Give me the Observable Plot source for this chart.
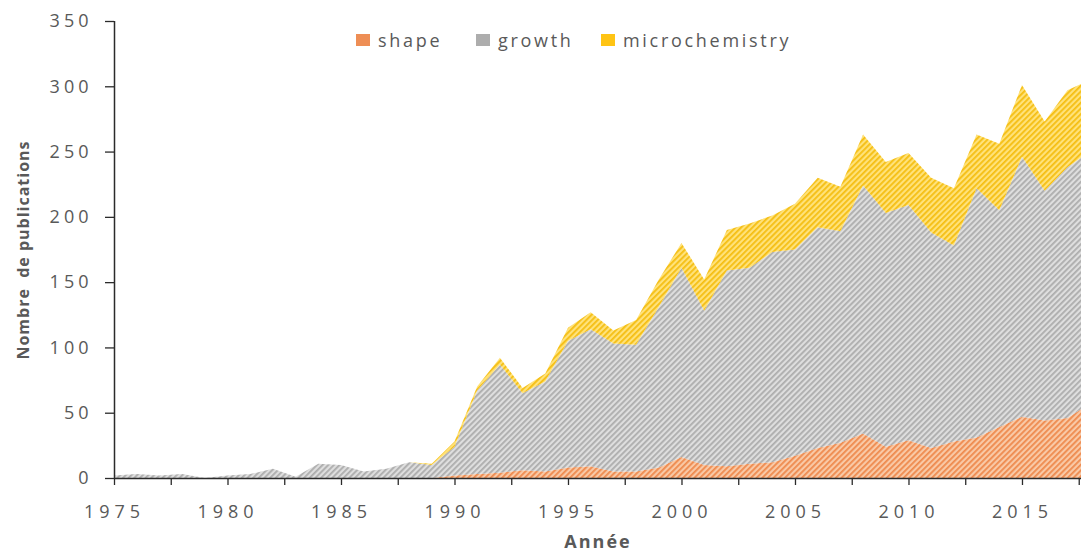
<!DOCTYPE html>
<html>
<head>
<meta charset="utf-8">
<script src="https://cdn.jsdelivr.net/npm/d3@7"></script>
<script src="https://cdn.jsdelivr.net/npm/@observablehq/plot@0.6"></script>
<style>
  html, body { margin: 0; padding: 0; background: #fff; }
  #wrap { position: relative; width: 1081px; height: 555px; overflow: hidden; }
  #legend { position: absolute; top: 28px; left: 0; width: 1081px; height: 24px;
    font-family: "Open Sans", sans-serif; font-size: 18px; color: #595959; letter-spacing: 2.7px; }
  .item { position: absolute; top: 0; display: flex; align-items: center; height: 24px; }
  .sw { width: 14px; height: 12px; margin-right: 8px; }
</style>
</head>
<body>
<div id="wrap">
  <div id="chart"></div>
  <div id="legend"></div>
</div>
<script>
// ---- data ----
const years = d3.range(1975, 2019);
const seriesNames = ["shape", "growth", "microchemistry"];
const shape = [0,0,0,0,0,0,0,0,0,0,0,0,0,0,0,
  2,3,4,6,5,8,9,5,5,8,16,10,9,11,12,17,23,27,34,24,29,23,28,31,39,47,44,46,57];
const growth = [2,3,2,3,0,2,3,7,1,11,10,5,7,12,10,
  22,64,83,59,69,97,105,98,97,123,145,118,150,150,161,158,169,162,190,179,180,165,150,191,166,199,176,192,193];
const microchemistry = [0,0,0,0,0,0,0,0,0,0,0,0,0,0,1,
  4,3,5,4,6,10,13,10,19,21,19,24,31,34,28,35,38,34,39,39,40,42,44,41,51,55,53,59,55];
const yTicks = [0, 50, 100, 150, 200, 250, 300, 350];
const xLabelTicks = [1975, 1980, 1985, 1990, 1995, 2000, 2005, 2010, 2015];
const xMarkTicks = [1975, 1977.5, 1980, 1982.5, 1985, 1987.5, 1990, 1992.5, 1995, 1997.5, 2000, 2002.5, 2005, 2007.5, 2010, 2012.5, 2015, 2017.5];
const yTitle = "Nombre  de publications";
const xTitle = "Année";

const values = {shape, growth, microchemistry};
const table = seriesNames.flatMap(s => years.map((y, i) => ({year: y, series: s, value: values[s][i]})));

const patterns = {
  shape: {bg: "#F9C9A6", fg: "#EE8A4E", solid: "#EE8E55"},
  growth: {bg: "#DEDEDE", fg: "#ADADAD", solid: "#ADADAD"},
  microchemistry: {bg: "#FFE27A", fg: "#F5BE12", solid: "#FFC414"}
};

const textColor = "#595959";
const axisColor = "#2b2b2b";

const plot = Plot.plot({
  width: 1081,
  height: 555,
  marginTop: 21,
  marginBottom: 77,
  marginLeft: 114,
  marginRight: 0,
  style: {fontFamily: "'Open Sans', sans-serif", fontSize: "18px", color: textColor, background: "#fff"},
  x: {domain: [1975, 2017.6]},
  y: {domain: [0, 350]},
  color: {domain: seriesNames, range: seriesNames.map(s => `url(#pat-${s})`)},
  marks: [
    Plot.areaY(table, {x: "year", y: "value", z: "series", fill: "series", order: seriesNames, clip: true}),
    Plot.axisY({ticks: yTicks, tickSize: 9, tickPadding: 13, stroke: axisColor, fill: textColor, label: null, strokeWidth: 1.3}),
    Plot.axisX({ticks: xMarkTicks, tickSize: 7, tickFormat: () => "", stroke: axisColor, label: null, strokeWidth: 1.3}),
    Plot.axisX({ticks: xLabelTicks, tickSize: 0, tickPadding: 27, tickFormat: d => String(d), fill: textColor, label: null}),
    Plot.ruleY([0], {stroke: axisColor, strokeWidth: 1.5}),
    Plot.ruleX([1975], {stroke: axisColor, strokeWidth: 1.5}),
    Plot.text([yTitle], {text: d => d, frameAnchor: "left", textAnchor: "middle", lineAnchor: "middle", dx: -91, rotate: -90,
      fontWeight: "bold", fontSize: 16, fill: textColor}),
    Plot.text([xTitle], {text: d => d, frameAnchor: "bottom", textAnchor: "middle", lineAnchor: "middle", dy: 64,
      fontWeight: "bold", fontSize: 18, fill: textColor})
  ]
});

// hatch patterns
const svg = d3.select(plot);
const defs = svg.insert("defs", ":first-child");
for (const s of seriesNames) {
  const p = defs.append("pattern")
    .attr("id", `pat-${s}`)
    .attr("patternUnits", "userSpaceOnUse")
    .attr("width", 4).attr("height", 4)
    .attr("patternTransform", "rotate(45)");
  p.append("rect").attr("width", 4).attr("height", 4).attr("fill", patterns[s].bg);
  p.append("rect").attr("width", 1.8).attr("height", 4).attr("fill", patterns[s].fg);
}
// letter spacing per text group
svg.selectAll("text").each(function() {
  const t = this.textContent;
  if (t === yTitle) this.style.letterSpacing = "1px";
  else if (t === xTitle) this.style.letterSpacing = "2px";
  else if (xLabelTicks.map(String).includes(t)) this.style.letterSpacing = "5px";
  else this.style.letterSpacing = "4px";
});

document.getElementById("chart").appendChild(plot);

// legend
const legendPos = {shape: 356, growth: 476, microchemistry: 601};
const legend = document.getElementById("legend");
for (const s of seriesNames) {
  const item = document.createElement("div");
  item.className = "item";
  item.style.left = legendPos[s] + "px";
  const sw = document.createElement("span");
  sw.className = "sw";
  sw.style.background = patterns[s].solid;
  const tx = document.createElement("span");
  tx.textContent = s;
  item.appendChild(sw);
  item.appendChild(tx);
  legend.appendChild(item);
}
</script>
</body>
</html>
